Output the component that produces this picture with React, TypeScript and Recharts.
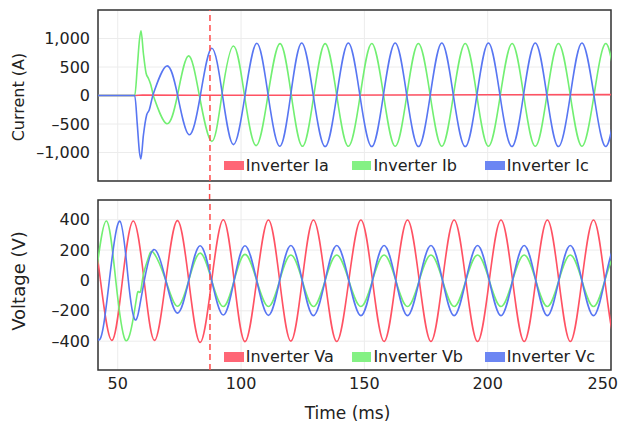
import React from 'react';
import { LineChart, Line, XAxis, YAxis, CartesianGrid, ReferenceLine, ReferenceArea } from 'recharts';

// time axis (ms)
const timeDomain: [number, number] = [42, 250];
const timeTicks = [50, 100, 150, 200, 250];
const faultTime = 87.4;

// current panel (A)
const currentTicks = [-1000, -500, 0, 500, 1000];
const iaPts = [[42, 0], [57, 0], [60, 8], [80, 5], [120, 5], [160, 10], [200, 12], [250, 15]];
const ibSpike = [[42, 0], [50, 0], [56.9, 0], [57.95, 507], [58.8, 974], [59.45, 1136], [60.4, 741], [61.5, 391], [62.4, 304], [63.4, 187], [64.4, 0]];
const ibWave = [
  [64.4, 0], [69.9, -495], [74.2, 0], [78.6, 694], [83.1, 0], [88.1, -804], [92.2, 0], [96.9, 869], [101.4, 0], [106.1, -879],
  [110.9, 0], [115.8, 910], [120.4, 0], [124.9, -890], [129.5, 0], [134.1, 910], [138.8, 0], [143.5, -890], [148.3, 0], [153.0, 912],
  [157.8, 0], [162.5, -890], [167.2, 0], [171.9, 912], [176.7, 0], [181.4, -890], [186.1, 0], [190.9, 912], [195.6, 0], [200.3, -890],
  [205.1, 0], [209.9, 912], [214.6, 0], [219.3, -890], [224.0, 0], [228.7, 912], [233.5, 0], [238.2, -890], [243.1, 0], [248.0, 912],
  [252.7, 0], [257.4, -890],
];
const icSpike = [[42, 0], [50, 0], [56.9, 0], [57.95, -520], [58.8, -990], [59.4, -1112], [60.4, -700], [61.75, -337], [62.8, -250], [63.6, -110], [64.2, 0]];
const icWave = [
  [64.2, 0], [69.9, 519], [74.3, 0], [78.9, -687], [83.5, 0], [88.1, 829], [92.5, 0], [96.9, -862], [101.6, 0], [106.4, 916],
  [111.0, 0], [115.7, -890], [120.1, 0], [124.6, 922], [129.3, 0], [134.1, -895], [138.8, 0], [143.5, 922], [148.2, 0], [153.0, -895],
  [157.7, 0], [162.5, 922], [167.2, 0], [171.95, -895], [176.7, 0], [181.4, 922], [186.1, 0], [190.9, -895], [195.6, 0], [200.3, 922],
  [205.0, 0], [209.8, -895], [214.5, 0], [219.3, 922], [224.0, 0], [228.7, -895], [233.5, 0], [238.2, 922], [243.1, 0], [248.0, -895],
  [252.7, 0], [257.4, 922],
];

// voltage panel (V)
const voltageTicks = [-400, -200, 0, 200, 400];
const vaPts = [
  [33.8, 0], [38.4, 398], [43.0, 0], [47.6, -395], [51.9, 0], [56.3, 392], [60.7, 0], [64.9, -395], [69.5, 0], [74.2, 394],
  [78.8, 0], [83.4, -408], [88.1, 0], [92.8, 400], [97.2, 0], [101.6, -403], [106.35, 0], [111.1, 398], [115.65, 0], [120.2, -400],
  [124.8, 0], [129.35, 398], [134.1, 0], [138.8, -402], [143.7, 0], [148.6, 398], [153.3, 0], [158.0, -402], [162.75, 0], [167.5, 398],
  [172.25, 0], [177.0, -402], [181.7, 0], [186.4, 398], [191.15, 0], [195.9, -402], [200.65, 0], [205.4, 398], [210.1, 0], [214.8, -402],
  [219.5, 0], [224.2, 398], [228.85, 0], [233.5, -402], [238.2, 0], [242.9, 398], [247.5, 0], [252.1, -402], [256.8, 0],
];
const vbPts = [
  [31.6, 0], [36.3, -392], [40.9, 0], [45.4, 392], [49.2, 0], [53.0, -391], [56.3, -248], [57.7, -106], [58.4, -73], [59.3, -70],
  [60.4, 38], [62.4, 148], [64.6, 181], [69.5, 0], [74.2, -170], [78.8, 0], [83.4, 180], [88.1, 0], [92.8, -172], [97.2, 0],
  [101.6, 172], [106.35, 0], [111.1, -172], [115.65, 0], [120.2, 168], [124.8, 0], [129.35, -172], [134.1, 0], [138.8, 168], [143.7, 0],
  [148.6, -172], [153.3, 0], [158.0, 168], [162.75, 0], [167.5, -172], [172.25, 0], [177.0, 168], [181.7, 0], [186.4, -172], [191.15, 0],
  [195.9, 168], [200.65, 0], [205.4, -172], [210.1, 0], [214.8, 168], [219.5, 0], [224.2, -172], [228.85, 0], [233.5, 168], [238.2, 0],
  [242.9, -172], [247.5, 0], [252.1, 168], [256.8, 0],
];
const vcPts = [
  [33.0, 392], [37.6, 0], [42.3, -392], [46.6, 0], [50.9, 390], [54.3, 0], [57.0, -259], [59.0, -160], [60.8, 0], [64.6, 203],
  [69.5, 0], [74.2, -215], [78.8, 0], [83.4, 229], [88.1, 0], [92.8, -228], [97.2, 0], [101.6, 229], [106.35, 0], [111.1, -230],
  [115.65, 0], [120.2, 230], [124.8, 0], [129.35, -232], [134.1, 0], [138.8, 230], [143.7, 0], [148.6, -232], [153.3, 0], [158.0, 230],
  [162.75, 0], [167.5, -232], [172.25, 0], [177.0, 230], [181.7, 0], [186.4, -232], [191.15, 0], [195.9, 230], [200.65, 0], [205.4, -232],
  [210.1, 0], [214.8, 230], [219.5, 0], [224.2, -232], [228.85, 0], [233.5, 230], [238.2, 0], [242.9, -232], [247.5, 0], [252.1, 230],
  [256.8, 0],
];

const currentLegend = ['Inverter Ia', 'Inverter Ib', 'Inverter Ic'];
const voltageLegend = ['Inverter Va', 'Inverter Vb', 'Inverter Vc'];

const RED = '#ff5263';
const GREEN = '#72ef72';
const BLUE = '#5876f2';
const SWATCH = ['#ff6676', '#84f184', '#6c86f3'];
const FONT = 'DejaVu Sans';

const toPts = (a: number[][]) => a.map(([t, v]) => ({ t, v }));
const fmt = (v: number) => (v < 0 ? '\u2013' + Math.abs(v).toLocaleString('en-US') : v.toLocaleString('en-US'));

const tickStyle = { fontFamily: FONT, fontSize: 16, fill: '#222' };

const TimeTick = (props: any) => {
  const { x, y, payload } = props;
  const last = payload.value === 250;
  return (
    <text x={last ? 618 : x} y={y} dy="0.71em" textAnchor={last ? 'end' : 'middle'} {...tickStyle}>
      {payload.value}
    </text>
  );
};

const Legendish = ({ labels, top }: { labels: string[]; top: number }) => {
  const xs = [224, 351.7, 485];
  return (
    <>
      {labels.map((l, i) => (
        <div key={l} style={{ position: 'absolute', left: xs[i], top: top - 10, height: 20, display: 'flex', alignItems: 'center', whiteSpace: 'nowrap' }}>
          <div style={{ width: 19.5, height: 9.5, background: SWATCH[i], marginRight: 2.2 }} />
          <span style={{ fontFamily: FONT, fontSize: 16, color: '#222', lineHeight: '20px' }}>{l}</span>
        </div>
      ))}
    </>
  );
};

const lineProps = { dataKey: 'v', dot: false, isAnimationActive: false, strokeWidth: 1.6, activeDot: false } as const;

export default function App() {
  return (
    <div style={{ position: 'absolute', left: 0, top: 0, width: 619, height: 423, background: '#fff', overflow: 'hidden' }}>
      <div style={{ position: 'absolute', left: 0, top: 0 }}>
        <LineChart width={619} height={190} margin={{ top: 10, right: 8, bottom: 9, left: 0 }}>
          <CartesianGrid stroke="#ececec" strokeWidth={1} />
          <XAxis type="number" dataKey="t" domain={timeDomain} ticks={timeTicks} allowDataOverflow hide />
          <YAxis type="number" width={98} domain={[-1500, 1500]} ticks={currentTicks} tickFormatter={fmt} tick={tickStyle} axisLine={false} tickLine={false} />
          <Line {...lineProps} data={toPts(iaPts)} type="linear" stroke={RED} name="Inverter Ia" />
          <Line {...lineProps} data={toPts(ibSpike)} type="monotone" stroke={GREEN} legendType="none" />
          <Line {...lineProps} data={toPts(ibWave)} type="natural" stroke={GREEN} name="Inverter Ib" />
          <Line {...lineProps} data={toPts(icSpike)} type="monotone" stroke={BLUE} legendType="none" />
          <Line {...lineProps} data={toPts(icWave)} type="natural" stroke={BLUE} name="Inverter Ic" />
          <ReferenceLine x={faultTime} stroke="#ff4a4a" strokeWidth={1.5} strokeDasharray="6 4" />
          <ReferenceArea x1={timeDomain[0]} x2={timeDomain[1]} y1={-1500} y2={1500} fill="none" stroke="#333" strokeWidth={1.5} />
        </LineChart>
      </div>
      {/* fault marker continues through the gap between panels */}
      <svg width={6} height={19} style={{ position: 'absolute', left: 207, top: 181 }}>
        <line x1={2.6} y1={0} x2={2.6} y2={19} stroke="#ff4a4a" strokeWidth={1.5} strokeDasharray="6 4" strokeDashoffset={-3} />
      </svg>
      <div style={{ position: 'absolute', left: 0, top: 190 }}>
        <LineChart width={619} height={233} margin={{ top: 10, right: 8, bottom: 0, left: 0 }}>
          <CartesianGrid stroke="#ececec" strokeWidth={1} />
          <XAxis type="number" dataKey="t" domain={timeDomain} ticks={timeTicks} allowDataOverflow height={53} tick={<TimeTick />} axisLine={false} tickLine={false} />
          <YAxis type="number" width={98} domain={[-590, 530]} ticks={voltageTicks} tickFormatter={fmt} tick={tickStyle} axisLine={false} tickLine={false} allowDataOverflow />
          <Line {...lineProps} data={toPts(vaPts)} type="natural" stroke={RED} name="Inverter Va" />
          <Line {...lineProps} data={toPts(vbPts)} type="natural" stroke={GREEN} name="Inverter Vb" />
          <Line {...lineProps} data={toPts(vcPts)} type="natural" stroke={BLUE} name="Inverter Vc" />
          <ReferenceLine x={faultTime} stroke="#ff4a4a" strokeWidth={1.5} strokeDasharray="6 4" />
          <ReferenceArea x1={timeDomain[0]} x2={timeDomain[1]} y1={-590} y2={530} fill="none" stroke="#333" strokeWidth={1.5} />
        </LineChart>
      </div>
      <Legendish labels={currentLegend} top={165.7} />
      <Legendish labels={voltageLegend} top={357} />
      <div style={{ position: 'absolute', left: 18, top: 96.7, transform: 'translate(-50%, -50%) rotate(-90deg)', whiteSpace: 'nowrap', fontFamily: FONT, fontSize: 16, color: '#222' }}>
        Current (A)
      </div>
      <div style={{ position: 'absolute', left: 18, top: 281.3, transform: 'translate(-50%, -50%) rotate(-90deg)', whiteSpace: 'nowrap', fontFamily: FONT, fontSize: 18, color: '#222' }}>
        Voltage (V)
      </div>
      <div style={{ position: 'absolute', left: 347.5, top: 413, transform: 'translate(-50%, -50%)', whiteSpace: 'nowrap', fontFamily: FONT, fontSize: 17, color: '#222' }}>
        Time (ms)
      </div>
    </div>
  );
}
